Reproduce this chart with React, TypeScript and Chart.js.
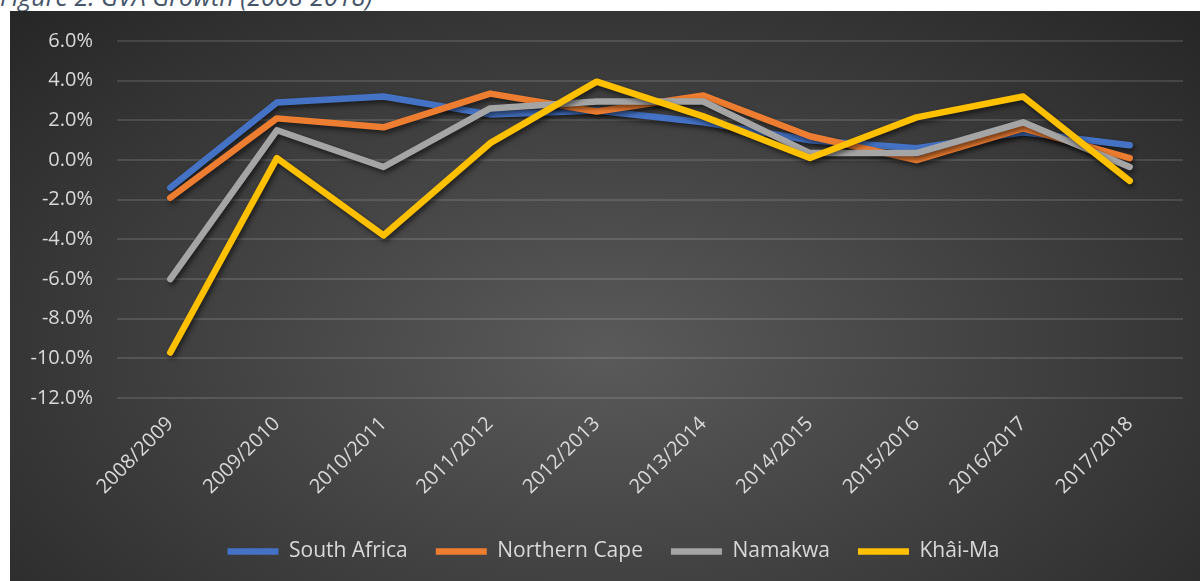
import React, { useEffect, useRef } from "react";
import { Chart, registerables } from "chart.js";

Chart.register(...registerables);

const categories = [
  "2008/2009",
  "2009/2010",
  "2010/2011",
  "2011/2012",
  "2012/2013",
  "2013/2014",
  "2014/2015",
  "2015/2016",
  "2016/2017",
  "2017/2018",
];

const southAfrica = [-1.4, 2.9, 3.2, 2.3, 2.5, 1.9, 1.0, 0.6, 1.4, 0.75];
const northernCape = [-1.9, 2.1, 1.65, 3.35, 2.45, 3.25, 1.2, 0.0, 1.6, 0.1];
const namakwa = [-6.0, 1.5, -0.35, 2.6, 2.95, 2.95, 0.35, 0.35, 1.9, -0.35];
const khaiMa = [-9.7, 0.1, -3.8, 0.85, 3.95, 2.2, 0.1, 2.15, 3.2, -1.05];

const seriesNames = ["South Africa", "Northern Cape", "Namakwa", "Khâi-Ma"];
const seriesColors = ["#4472C4", "#ED7D31", "#A5A5A5", "#FFC000"];

const yMin = -12;
const yMax = 6;
const yStep = 2;

const captionText = "Figure 2: GVA Growth (2008-2018)";

export default function App() {
  const canvasRef = useRef<HTMLCanvasElement | null>(null);

  useEffect(() => {
    if (!canvasRef.current) return;
    const shadowPlugin = {
      id: "lineShadow",
      beforeDatasetsDraw(chart: any) {
        const c = chart.ctx;
        c.save();
        c.shadowColor = "rgba(0,0,0,0.55)";
        c.shadowBlur = 5;
        c.shadowOffsetX = 2;
        c.shadowOffsetY = 3;
      },
      afterDatasetsDraw(chart: any) {
        chart.ctx.restore();
      },
    };
    const shiftLegend = {
      id: "shiftLegend",
      afterLayout(chart: any) {
        const l = chart.legend;
        if (l) {
          l.left += 17;
          l.right += 17;
        }
      },
    };
    const allSeries = [southAfrica, northernCape, namakwa, khaiMa];
    const chart = new Chart(canvasRef.current, {
      type: "line",
      data: {
        labels: categories,
        datasets: allSeries.map((d, i) => ({
          label: seriesNames[i],
          data: d,
          borderColor: seriesColors[i],
          backgroundColor: seriesColors[i],
          borderWidth: 6.5,
          borderCapStyle: "round" as const,
          borderJoinStyle: "round" as const,
          pointRadius: 0,
          pointHoverRadius: 0,
          pointStyle: "line" as const,
          tension: 0,
          fill: false,
          order: allSeries.length - 1 - i,
        })),
      },
      options: {
        animation: false,
        responsive: false,
        maintainAspectRatio: false,
        layout: { padding: { top: 30, right: 17, left: 0, bottom: 9 } },
        plugins: {
          tooltip: { enabled: false },
          legend: {
            position: "bottom",
            labels: {
              color: "#D9D9D9",
              font: { family: "'Open Sans'", size: 21 },
              usePointStyle: true,
              pointStyleWidth: 51,
              padding: 28,
              sort: (a: any, b: any) => a.datasetIndex - b.datasetIndex,
            },
          },
        },
        scales: {
          x: {
            offset: true,
            grid: { display: false, drawTicks: false },
            border: { display: false },
            ticks: {
              color: "#D9D9D9",
              font: { family: "'Open Sans'", size: 20 },
              minRotation: 45,
              maxRotation: 45,
              autoSkip: false,
              padding: 14,
            },
          },
          y: {
            min: yMin,
            max: yMax,
            grid: {
              color: "rgba(255,255,255,0.12)",
              lineWidth: 2,
              drawTicks: true,
              tickLength: 24,
              tickColor: "rgba(0,0,0,0)",
            },
            border: { display: false },
            ticks: {
              stepSize: yStep,
              color: "#D9D9D9",
              font: { family: "'Open Sans'", size: 20 },
              padding: 0,
              callback: (v: any) => Number(v).toFixed(1) + "%",
            },
            afterFit: (s: any) => {
              s.width = 107;
            },
          },
        },
      },
      plugins: [shadowPlugin, shiftLegend],
    });
    return () => chart.destroy();
  }, []);

  return (
    <div
      style={{
        position: "fixed",
        left: 0,
        top: 0,
        width: 1200,
        height: 581,
        overflow: "hidden",
        background: "#ffffff",
      }}
    >
      <div
        style={{
          position: "absolute",
          left: 0,
          top: -21,
          fontFamily: "'Open Sans'",
          fontStyle: "italic",
          fontSize: 25,
          color: "#44546A",
          whiteSpace: "nowrap",
        }}
      >
        {captionText}
      </div>
      <div
        style={{
          position: "absolute",
          left: 10,
          top: 11,
          width: 1190,
          height: 570,
          background:
            "radial-gradient(ellipse farthest-corner at 50% 60%, #5a5a5a 0%, #262626 100%)",
        }}
      >
        <canvas
          ref={canvasRef}
          width={1190}
          height={570}
          style={{ display: "block", width: 1190, height: 570 }}
        />
      </div>
    </div>
  );
}
